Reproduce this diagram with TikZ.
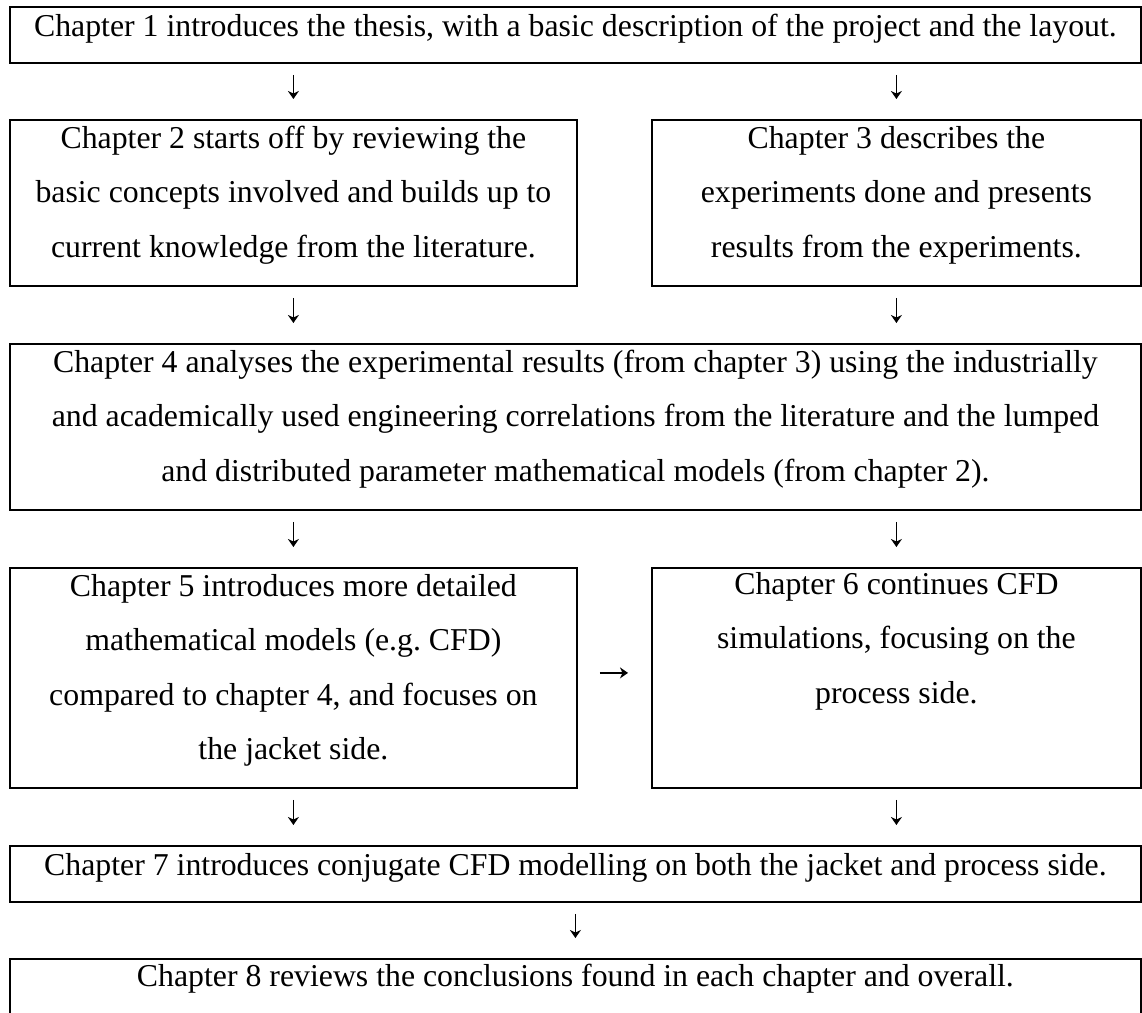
\documentclass[tikz,border=0pt]{standalone}
\usepackage{fontspec}
\setmainfont{Liberation Serif}
\usetikzlibrary{arrows.meta}
\frenchspacing
\tikzset{
  box/.style={draw, line width=1.8pt, inner sep=0pt, anchor=north west},
  txt/.style={font=\fontsize{31.8}{54.5}\selectfont, align=center, inner sep=0pt, anchor=base},
  arr/.style={line width=1.3pt, -{Stealth[length=8pt,width=11pt,inset=2.5pt]}, shorten <=11pt, shorten >=20pt},
  harr/.style={line width=1.3pt, -{Stealth[length=8pt,width=11pt,inset=2.5pt]}, shorten <=22pt, shorten >=23pt}
}
\begin{document}
\begin{tikzpicture}[x=1pt,y=-1pt]
\useasboundingbox (0,0) rectangle (1142,1012);
\clip (0,0) rectangle (1142,1012);
\fill[white] (0,0) rectangle (1142,1012);
% boxes
\node[box, minimum width=1131pt, minimum height=56pt] (b1) at (9,6) {};
\node[box, minimum width=567pt, minimum height=166pt] (b2) at (9,119) {};
\node[box, minimum width=489pt, minimum height=166pt] (b3) at (651,119) {};
\node[box, minimum width=1131pt, minimum height=166pt] (b4) at (9,343) {};
\node[box, minimum width=567pt, minimum height=220pt] (b5) at (9,567) {};
\node[box, minimum width=489pt, minimum height=220pt] (b6) at (651,567) {};
\node[box, minimum width=1131pt, minimum height=56pt] (b7) at (9,845) {};
\node[box, minimum width=1131pt, minimum height=80pt] (b8) at (9,958) {};
% texts (base anchor = baseline of the last line)
\node[txt] (t1) at ([yshift=-30pt]b1.north) {Chapter 1 introduces the thesis, with a basic description of the project and the layout.};
\node[txt] (t2) at ([yshift=-138pt]b2.north) {Chapter 2 starts off by reviewing the\\basic concepts involved and builds up to\\current knowledge from the literature.};
\node[txt] (t3) at ([yshift=-138pt]b3.north) {Chapter 3 describes the\\experiments done and presents\\results from the experiments.};
\node[txt] (t4) at ([yshift=-138pt]b4.north) {Chapter 4 analyses the experimental results (from chapter 3) using the industrially\\and academically used engineering correlations from the literature and the lumped\\and distributed parameter mathematical models (from chapter 2).};
\node[txt] (t5) at ([yshift=-192.5pt]b5.north) {Chapter 5 introduces more detailed\\mathematical models (e.g. CFD)\\compared to chapter 4, and focuses on\\the jacket side.};
\node[txt] (t6) at ([yshift=-136pt]b6.north) {Chapter 6 continues CFD\\simulations, focusing on the\\process side.};
\node[txt] (t7) at ([yshift=-30pt]b7.north) {Chapter 7 introduces conjugate CFD modelling on both the jacket and process side.};
\node[txt] (t8) at ([yshift=-28pt]b8.north) {Chapter 8 reviews the conclusions found in each chapter and overall.};
% connectors
\draw[arr] (b1.south -| b2.north) -- (b2.north);
\draw[arr] (b1.south -| b3.north) -- (b3.north);
\draw[arr] (b2.south) -- (b4.north -| b2.south);
\draw[arr] (b3.south) -- (b4.north -| b3.south);
\draw[arr] (b4.south -| b5.north) -- (b5.north);
\draw[arr] (b4.south -| b6.north) -- (b6.north);
\draw[arr] (b5.south) -- (b7.north -| b5.south);
\draw[arr] (b6.south) -- (b7.north -| b6.south);
\draw[arr] (b7.south) -- (b8.north);
\draw[harr] ([yshift=5pt]b5.east) -- ([yshift=5pt]b6.west);
\end{tikzpicture}
\end{document}
